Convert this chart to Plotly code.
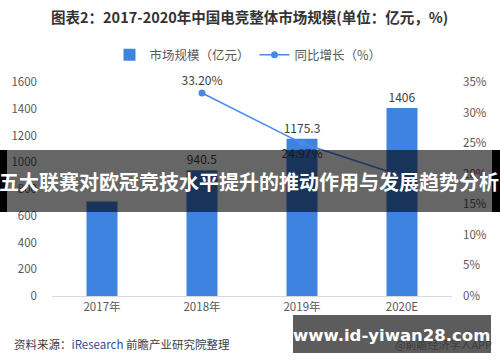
import plotly.graph_objects as go

years = ["2017年", "2018年", "2019年", "2020E"]
market = [705.9, 940.5, 1175.3, 1406]
market_labels = ["", "940.5", "1175.3", "1406"]
growth = [None, 33.20, 24.97, 19.63]
growth_labels = ["", "33.20%", "24.97%", ""]
growth_pos = ["top center", "top center", "bottom center", "bottom center"]

W, H = 500, 362
L, R, T, B = 52, 48, 82, 66
PW, PH = W - L - R, H - T - B

def px(x):
    return (x - L) / PW

def py(y):
    return (H - B - y) / PH

FONT = "Noto Sans CJK SC, Microsoft YaHei, sans-serif"
BLUE = "#3f83e0"
LINE = "#4a88e6"

fig = go.Figure()
fig.add_trace(go.Bar(
    x=years, y=market, name="市场规模（亿元）",
    marker=dict(color=BLUE, line=dict(width=0)),
    text=market_labels, textposition="outside", cliponaxis=False, constraintext="none",
    textfont=dict(size=12, color="#404040", family=FONT),
    width=0.31,
))
fig.add_trace(go.Scatter(
    x=years, y=growth, name="同比增长（%）", yaxis="y2",
    mode="lines+markers+text",
    line=dict(color=LINE, width=1.5),
    marker=dict(color=LINE, size=7),
    text=growth_labels, textposition=growth_pos, cliponaxis=False,
    textfont=dict(size=12, color="#404040", family=FONT),
))

shapes = [
    dict(type="rect", xref="paper", yref="paper", x0=px(0), x1=px(500), y0=py(212), y1=py(150),
         fillcolor="rgba(0,0,0,0.6)", line=dict(width=0), layer="above"),
    dict(type="rect", xref="paper", yref="paper", x0=px(0), x1=px(7), y0=py(212), y1=py(150),
         fillcolor="#000", line=dict(width=0), layer="above"),
    dict(type="rect", xref="paper", yref="paper", x0=px(492), x1=px(500), y0=py(212), y1=py(150),
         fillcolor="#000", line=dict(width=0), layer="above"),
    dict(type="rect", xref="paper", yref="paper", x0=px(293), x1=px(491), y0=py(353), y1=py(315),
         fillcolor="rgba(70,70,70,0.88)", line=dict(width=0), layer="above"),
]

annotations = [
    dict(text="<b>图表2：2017-2020年中国电竞整体市场规模(单位：亿元，%)</b>", xref="paper", yref="paper",
         x=px(249), y=py(17), showarrow=False, xanchor="center", yanchor="middle",
         font=dict(size=14.5, color="#333333", family=FONT)),
    dict(text="资料来源：<span style='color:#2f4d8f'>iResearch</span> 前瞻产业研究院整理", xref="paper", yref="paper",
         x=px(12), y=py(344), showarrow=False, xanchor="left", yanchor="middle",
         font=dict(size=11.5, color="#404040", family=FONT)),
    dict(text="@前瞻经济学人APP", xref="paper", yref="paper",
         x=px(494), y=py(344), showarrow=False, xanchor="right", yanchor="middle",
         font=dict(size=11, color="rgba(30,30,30,0.55)", family=FONT)),
    dict(text="<b>www.id-yiwan28.com</b>", xref="paper", yref="paper",
         x=px(391), y=py(335), showarrow=False, xanchor="center", yanchor="middle",
         font=dict(size=16.5, color="#ffffff", family="DejaVu Sans, sans-serif")),
    dict(text="<b>五大联赛对欧冠竞技水平提升的推动作用与发展趋势分析</b>", xref="paper", yref="paper",
         x=px(249), y=py(181), showarrow=False, xanchor="center", yanchor="middle",
         font=dict(size=20, color="#ffffff", family=FONT)),
]

fig.update_layout(
    width=W, height=H,
    margin=dict(l=L, r=R, t=T, b=B, pad=0, autoexpand=False),
    paper_bgcolor="#ffffff", plot_bgcolor="#ffffff",
    font=dict(family=FONT, color="#595959", size=11),
    showlegend=True,
    legend=dict(orientation="h", x=px(248), y=py(55), xanchor="center", yanchor="middle",
                font=dict(size=12.5, color="#595959", family=FONT), bgcolor="rgba(0,0,0,0)",
                itemwidth=30, tracegroupgap=0),
    xaxis=dict(showgrid=False, showline=True, linecolor="#d9d9d9", linewidth=1, automargin=False,
               ticks="", tickfont=dict(size=11.5, color="#595959")),
    yaxis=dict(range=[0, 1600], dtick=200, showgrid=False, showline=False, zeroline=False,
               automargin=False,
               ticks="", ticklabelstandoff=14, tickfont=dict(size=11.5, color="#595959")),
    yaxis2=dict(range=[0, 35], dtick=5, overlaying="y", side="right", showgrid=False,
                showline=False, zeroline=False, ticks="", ticksuffix="%", ticklabelstandoff=10,
                automargin=False,
                tickfont=dict(size=11.5, color="#595959")),
    shapes=shapes, annotations=annotations,
)

fig.write_html("out.html", config={"displayModeBar": False},
               post_script="document.body.style.margin='0';document.body.style.overflow='hidden';")
